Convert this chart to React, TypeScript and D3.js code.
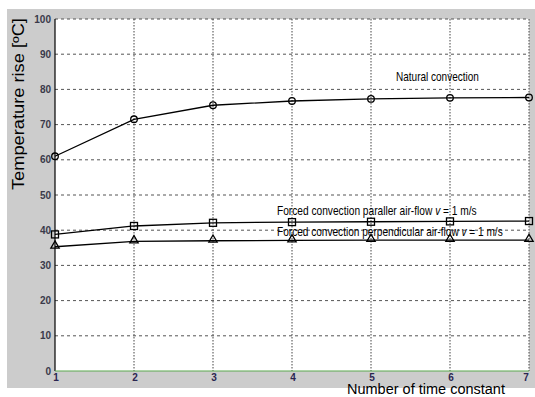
import React, { useLayoutEffect, useRef, useState } from "react";
import * as d3 from "d3";

const timeConstants = [1, 2, 3, 4, 5, 6, 7];
const naturalConvection = [61, 71.5, 75.5, 76.7, 77.3, 77.6, 77.7];
const forcedParallel = [38.8, 41.2, 42.1, 42.3, 42.4, 42.5, 42.6];
const forcedPerpendicular = [35.3, 36.8, 37.0, 37.1, 37.2, 37.2, 37.2];
const yTicks = [0, 10, 20, 30, 40, 50, 60, 70, 80, 90, 100];

const W = 535;
const H = 397;
const M = { left: 55, right: 529, top: 19, bottom: 371 };

const narrow = "'Liberation Sans', Arial, sans-serif";

// Text horizontally condensed to a target width via a measured scale transform
function Condensed({ x, y, len, size = 13, rotate = 0, children }: any) {
  const ref = useRef<SVGTextElement>(null);
  const [s, setS] = useState(1);
  useLayoutEffect(() => {
    if (ref.current) {
      const w = ref.current.getComputedTextLength();
      if (w > 0) setS(len / w);
    }
  }, [len]);
  return (
    <g transform={`translate(${x},${y}) rotate(${rotate}) scale(${s},1)`}>
      <text ref={ref} x={0} y={0} fontFamily={narrow} fontSize={size} fill="#000">
        {children}
      </text>
    </g>
  );
}

export default function App() {
  const x = d3.scaleLinear().domain([1, 7]).range([M.left, M.right]);
  const y = d3.scaleLinear().domain([0, 100]).range([M.bottom, M.top]);
  const line = d3
    .line<number>()
    .x((_, i) => x(timeConstants[i]))
    .y((d) => y(d));

  const tri = d3.symbol().type(d3.symbolTriangle).size(30)();

  return (
    <svg
      width={W}
      height={H}
      style={{ position: "absolute", left: 0, top: 0, background: "#fff" }}
    >
      <rect x={7} y={9} width={W - 7} height={388 - 9} fill="#cccccc" />
      <rect
        x={M.left}
        y={M.top}
        width={M.right - M.left}
        height={M.bottom - M.top}
        fill="#ffffff"
      />
      {/* horizontal grid */}
      {yTicks.slice(1).map((t) => (
        <line
          key={"h" + t}
          x1={M.left}
          x2={M.right}
          y1={y(t)}
          y2={y(t)}
          stroke="#555"
          strokeWidth={1}
          strokeDasharray="3,3"
        />
      ))}
      {/* vertical grid */}
      {timeConstants.slice(1).map((t) => (
        <line
          key={"v" + t}
          x1={x(t)}
          x2={x(t)}
          y1={M.top}
          y2={M.bottom}
          stroke="#444"
          strokeWidth={1}
          strokeDasharray="1.5,1.5"
        />
      ))}
      {/* axes */}
      <line x1={M.left} x2={M.left} y1={M.top} y2={M.bottom} stroke="#000" strokeWidth={1.2} />
      <line x1={M.left} x2={M.right} y1={M.bottom} y2={M.bottom} stroke="#5aa84f" strokeWidth={1.2} />
      {/* y tick labels */}
      {yTicks.map((t) => (
        <text
          key={"yl" + t}
          x={M.left - 4}
          y={y(t)}
          dy="0.35em"
          textAnchor="end"
          fontFamily="Arial, 'Liberation Sans', sans-serif"
          fontWeight="bold"
          fontSize={10}
          fill="#3a3a4a"
        >
          {t}
        </text>
      ))}
      {/* x tick labels */}
      {timeConstants.map((t) => (
        <text
          key={"xl" + t}
          x={x(t) + (t === 7 ? -3 : 1)}
          y={M.bottom + 9.5}
          textAnchor="middle"
          fontFamily="Arial, 'Liberation Sans', sans-serif"
          fontWeight="bold"
          fontSize={10}
          fill="#2a2550"
        >
          {t}
        </text>
      ))}
      {/* series lines */}
      {[naturalConvection, forcedParallel, forcedPerpendicular].map((s, i) => (
        <path key={"s" + i} d={line(s) || ""} fill="none" stroke="#000" strokeWidth={1.3} />
      ))}
      {/* markers */}
      {naturalConvection.map((v, i) => (
        <circle
          key={"c" + i}
          cx={x(timeConstants[i])}
          cy={y(v)}
          r={3.3}
          fill="none"
          stroke="#000"
          strokeWidth={1.3}
        />
      ))}
      {forcedParallel.map((v, i) => (
        <rect
          key={"r" + i}
          x={x(timeConstants[i]) - 3.5}
          y={y(v) - 3.5}
          width={7}
          height={7}
          fill="none"
          stroke="#000"
          strokeWidth={1.3}
        />
      ))}
      {forcedPerpendicular.map((v, i) => (
        <path
          key={"t" + i}
          d={tri || ""}
          transform={`translate(${x(timeConstants[i])},${y(v) - 1})`}
          fill="none"
          stroke="#000"
          strokeWidth={1.3}
        />
      ))}
      {/* series annotations */}
      <Condensed x={396} y={81} len={83}>Natural convection</Condensed>
      <Condensed x={277} y={215} len={200}>
        Forced convection paraller air-flow <tspan fontStyle="italic">v</tspan> = 1 m/s
      </Condensed>
      <Condensed x={277} y={236} len={226}>
        Forced convection perpendicular air-flow <tspan fontStyle="italic">v</tspan> = 1 m/s
      </Condensed>
      {/* axis titles */}
      <Condensed x={24} y={190} len={172} size={16} rotate={-90}>
        Temperature rise [ºC]
      </Condensed>
      <Condensed x={347} y={394} len={158} size={15}>
        Number of time constant
      </Condensed>
    </svg>
  );
}
